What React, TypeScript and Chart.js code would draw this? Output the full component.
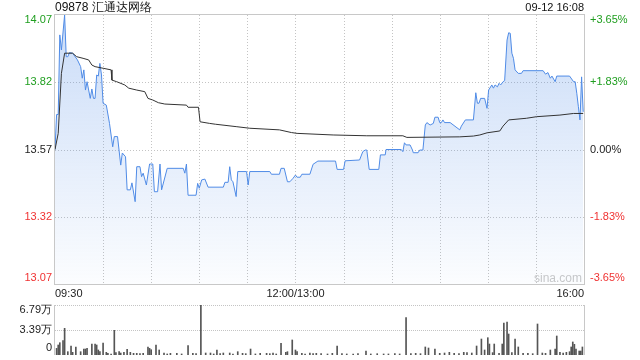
import React, { useEffect, useRef } from 'react';
import { Chart, registerables } from 'chart.js';

Chart.register(...registerables);

// ---------- text ----------
const TITLE = '09878 汇通达网络';
const DATE_LABEL = '09-12 16:08';
const WATERMARK = 'sina.com';

// ---------- axes ----------
const PRICE_MIN = 13.07;
const PRICE_MAX = 14.07;
const priceTicks = [14.07, 13.82, 13.57, 13.32, 13.07];
const pctTicks = [3.65, 1.83, 0, -1.83, -3.65];
const TOTAL_MINUTES = 330;
const timeLabels = ['09:30', '12:00/13:00', '16:00'];
const timeLabelMinutes = [0, 150, 330];
const VOL_MAX = 6.79;
const volTicks = [6.79, 3.39, 0];
const volTickLabels = ['6.79万', '3.39万', '0'];

// ---------- price series (minutes since 09:30, trading time) ----------
const priceMinutes = [
  0, 1, 2, 3, 4, 6, 7, 8, 9, 11, 14, 16, 17, 18, 19, 20, 21, 22, 23, 24, 25, 26, 27, 28, 29, 30,
  32, 34, 36, 37, 39, 41, 42, 44, 45, 47, 48, 50, 51, 53, 54, 55, 57, 59, 61, 62, 64, 65.5, 66.5,
  70, 80, 81, 82, 83, 88, 89, 90, 91.5, 93.5, 95.5, 105, 106, 108, 109, 110, 111, 113, 114, 119.5,
  120.5, 121.5, 134, 135, 140, 141, 143, 145, 146.5, 148.5, 150, 151, 153, 154, 159, 161, 164, 175,
  176, 180, 181, 190, 192, 193.5, 194.5, 196, 202, 203, 206, 206.5, 216, 217, 218, 219, 221.5, 223,
  223.5, 226.5, 227.5, 229.5, 231, 232, 234, 236, 237, 239, 240, 241, 242, 243, 246.5, 252.5, 253.5,
  256, 261, 262.5, 263.5, 264.5, 265.5, 268, 269.5, 270.5, 272.5, 273.5, 274.5, 276, 277, 278, 279.5,
  280.5, 282, 283, 284, 285, 286, 287, 289, 291, 292, 304.5, 306, 307.5, 309, 310, 312, 313, 321,
  323.5, 324.5, 325.5, 326.5, 327.5, 328.5, 329.5,
];
const priceValues = [
  13.57, 13.7, 13.7, 13.996, 13.94, 14.07, 13.915, 13.915, 13.93, 13.928, 13.903, 13.878, 13.835,
  13.866, 13.791, 13.822, 13.791, 13.76, 13.795, 13.76, 13.76, 13.847, 13.843, 13.89, 13.847, 13.742,
  13.735, 13.667, 13.58, 13.618, 13.618, 13.512, 13.557, 13.543, 13.42, 13.42, 13.446, 13.376, 13.506,
  13.506, 13.469, 13.482, 13.438, 13.516, 13.516, 13.413, 13.413, 13.516, 13.42, 13.5, 13.5, 13.482,
  13.516, 13.4, 13.4, 13.444, 13.426, 13.457, 13.46, 13.43, 13.43, 13.448, 13.448, 13.506, 13.457,
  13.45, 13.395, 13.488, 13.488, 13.438, 13.488, 13.488, 13.478, 13.478, 13.5, 13.5, 13.45, 13.45,
  13.463, 13.475, 13.467, 13.467, 13.478, 13.478, 13.515, 13.527, 13.527, 13.496, 13.496, 13.528,
  13.531, 13.562, 13.568, 13.568, 13.496, 13.496, 13.55, 13.55, 13.57, 13.57, 13.562, 13.595, 13.587,
  13.587, 13.568, 13.558, 13.558, 13.568, 13.568, 13.661, 13.67, 13.661, 13.667, 13.69, 13.69, 13.67,
  13.67, 13.68, 13.67, 13.67, 13.643, 13.657, 13.68, 13.68, 13.781, 13.742, 13.742, 13.76, 13.76,
  13.723, 13.791, 13.81, 13.798, 13.81, 13.803, 13.816, 13.81, 13.822, 13.826, 13.977, 14.004, 14.002,
  13.928, 13.909, 13.866, 13.853, 13.853, 13.863, 13.863, 13.85, 13.856, 13.835, 13.843, 13.822,
  13.843, 13.843, 13.822, 13.822, 13.779, 13.729, 13.68, 13.84, 13.71,
];

// ---------- average price series ----------
const avgMinutes = [
  0, 2, 4, 6, 11, 13.5, 17.5, 21, 23, 25, 30, 35, 35.5, 38.5, 43.5, 46, 51, 56, 58, 61, 64.5, 68.5,
  82, 83, 89.5, 90.5, 96.5, 100, 113, 121.5, 140, 147.5, 151, 173.5, 194.5, 217, 219.5, 252.5, 261,
  265, 269.5, 277.5, 279.5, 283, 294, 300.5, 315, 323.5, 329.5,
];
const avgValues = [
  13.57, 13.63, 13.853, 13.928, 13.928, 13.915, 13.909, 13.903, 13.884, 13.878, 13.872, 13.866,
  13.828, 13.822, 13.81, 13.798, 13.791, 13.785, 13.76, 13.754, 13.744, 13.739, 13.735, 13.727,
  13.727, 13.673, 13.667, 13.664, 13.655, 13.649, 13.643, 13.633, 13.63, 13.624, 13.621, 13.621,
  13.615, 13.617, 13.62, 13.624, 13.632, 13.639, 13.657, 13.68, 13.686, 13.692, 13.698, 13.704, 13.704,
];

// ---------- volume (万) ----------
const volMinutes = [
  1, 2, 3, 5, 6, 8, 10, 11, 13, 16, 18, 19, 20, 23, 25, 26, 27, 28, 30, 32, 33, 35, 37, 38, 40, 41,
  43, 45, 47, 49, 51, 53, 55, 58, 59, 60, 63, 65, 68, 70, 72, 76, 79, 83, 86, 88, 91, 94, 97, 99,
  101, 103, 105, 109, 111, 114, 117, 119, 122, 125, 128, 132, 134, 136, 138, 141, 144, 145, 148,
  150, 151, 154, 156, 159, 161, 163, 166, 170, 173, 176, 179, 182, 186, 189, 194, 197, 201, 205,
  208, 212, 215, 219, 222, 225, 228, 231, 233, 237, 240, 243, 246, 249, 252, 255, 257, 260, 263,
  266, 268, 270, 271, 273, 274, 277, 279, 280, 282, 283, 285, 287, 289, 292, 295, 298, 301, 304,
  306, 309, 312, 313, 315, 317, 319, 321, 322, 323, 324, 325, 327, 328, 329,
];
const volValues = [
  0.9, 1.36, 1.67, 1.95, 3.62, 0.45, 1.22, 0.36, 1.09, 0.45, 0.81, 0.81, 0.9, 1.49, 1.49, 1.36,
  0.68, 0.45, 1.63, 0.36, 0.23, 0.14, 3.35, 0.32, 0.45, 0.27, 0.36, 0.77, 0.36, 0.23, 0.23, 0.18,
  0.23, 1.09, 0.9, 0.72, 1.36, 0.68, 0.27, 0.14, 0.23, 0.23, 0.14, 1.27, 0.23, 0.18, 6.79, 0.27,
  0.27, 0.14, 0.68, 0.18, 0.27, 0.27, 0.14, 0.45, 0.23, 0.18, 0.81, 0.14, 0.23, 0.23, 0.18, 0.27,
  0.14, 1.58, 0.36, 0.45, 2.04, 0.68, 0.45, 0.23, 0.14, 0.27, 0.18, 0.23, 0.18, 0.14, 0.23, 1.22,
  0.18, 0.14, 0.14, 0.18, 0.54, 0.14, 0.18, 0.14, 0.14, 0.18, 0.14, 5.07, 0.18, 0.23, 0.18, 1.09,
  0.95, 0.81, 0.23, 0.27, 0.36, 0.23, 0.18, 0.36, 0.32, 0.27, 1.22, 2.17, 0.68, 2.35, 1.49, 0.32,
  1.49, 0.23, 1.49, 4.35, 4.48, 2.85, 0.32, 2.17, 1.09, 0.23, 0.23, 0.18, 4.21, 0.27, 0.23, 0.68,
  0.81, 2.58, 0.36, 0.27, 0.36, 0.45, 1.09, 1.77, 1.45, 0.81, 0.54, 0.54, 1.09,
];

const FONT = '"Liberation Sans", Arial, sans-serif';
const GREEN = '#1f9e1f';
const RED = '#f03232';
const NEUTRAL = '#222';
const GRID = '#c4c4c4';
const FRAME = '#c8c8c8';

function tickColor(v: number, ref: number) {
  if (Math.abs(v - ref) < 1e-6) return NEUTRAL;
  return v > ref ? GREEN : RED;
}

function fmtPct(v: number) {
  if (v === 0) return '0.00%';
  return (v > 0 ? '+' : '') + v.toFixed(2) + '%';
}

const pricePlugin = {
  id: 'priceDecor',
  beforeDatasetsDraw(chart: any) {
    const { ctx, chartArea: a, scales } = chart;
    const xs = scales.x;
    const ys = scales.y;
    ctx.save();
    ctx.lineWidth = 1;
    ctx.strokeStyle = GRID;
    ctx.setLineDash([1, 2]);
    priceTicks.slice(1, -1).forEach((v) => {
      const py = Math.round(ys.getPixelForValue(v)) + 0.5;
      ctx.beginPath();
      ctx.moveTo(a.left, py);
      ctx.lineTo(a.right, py);
      ctx.stroke();
    });
    for (let m = 30; m < TOTAL_MINUTES; m += 30) {
      const px = Math.round(xs.getPixelForValue(m)) + 0.5;
      ctx.beginPath();
      ctx.moveTo(px, a.top);
      ctx.lineTo(px, a.bottom);
      ctx.stroke();
    }
    ctx.setLineDash([]);
    ctx.strokeStyle = FRAME;
    ctx.strokeRect(a.left - 0.5, a.top - 0.5, a.right - a.left + 1, a.bottom - a.top + 1);
    // watermark
    ctx.fillStyle = '#c9c9c9';
    ctx.font = `12px ${FONT}`;
    ctx.textAlign = 'right';
    ctx.textBaseline = 'middle';
    ctx.fillText(WATERMARK, a.right - 2, a.bottom - 5);
    ctx.restore();
  },
  afterDraw(chart: any) {
    const { ctx, chartArea: a, scales } = chart;
    const ys = scales.y;
    const yp = scales.yPct;
    const xs = scales.x;
    ctx.save();
    ctx.font = `11px ${FONT}`;
    ctx.textBaseline = 'middle';
    const n = priceTicks.length;
    priceTicks.forEach((v, i) => {
      let py = ys.getPixelForValue(v);
      if (i === 0) py += 5;
      if (i === n - 1) py -= 6;
      ctx.fillStyle = tickColor(v, priceTicks[2]);
      ctx.textAlign = 'right';
      ctx.fillText(v.toFixed(2), a.left - 3, py);
    });
    pctTicks.forEach((v, i) => {
      let py = yp.getPixelForValue(v);
      if (i === 0) py += 5;
      if (i === n - 1) py -= 6;
      ctx.fillStyle = tickColor(v, 0);
      ctx.textAlign = 'left';
      ctx.fillText(fmtPct(v), a.right + 6, py);
    });
    // time labels
    ctx.fillStyle = NEUTRAL;
    timeLabels.forEach((t, i) => {
      const m = timeLabelMinutes[i];
      const px = xs.getPixelForValue(m);
      ctx.textAlign = i === 0 ? 'left' : i === timeLabels.length - 1 ? 'right' : 'center';
      ctx.fillText(t, px, a.bottom + 10);
    });
    // title and time stamp
    ctx.fillStyle = '#111';
    ctx.font = `12px ${FONT}`;
    ctx.textAlign = 'left';
    ctx.fillText(TITLE, a.left, 8);
    ctx.font = `11px ${FONT}`;
    ctx.textAlign = 'right';
    ctx.fillText(DATE_LABEL, a.right, 8);
    ctx.restore();
  },
};

const volPlugin = {
  id: 'volDecor',
  beforeDatasetsDraw(chart: any) {
    const { ctx, chartArea: a, scales } = chart;
    const ys = scales.y;
    ctx.save();
    ctx.lineWidth = 1;
    ctx.strokeStyle = GRID;
    ctx.setLineDash([1, 1]);
    volTicks.slice(0, -1).forEach((v) => {
      const py = Math.round(ys.getPixelForValue(v)) + 0.5;
      ctx.beginPath();
      ctx.moveTo(a.left, py);
      ctx.lineTo(a.right, py);
      ctx.stroke();
    });
    ctx.setLineDash([]);
    ctx.strokeStyle = FRAME;
    ctx.beginPath();
    ctx.moveTo(a.left - 0.5, a.top);
    ctx.lineTo(a.left - 0.5, a.bottom);
    ctx.moveTo(a.right + 0.5, a.top);
    ctx.lineTo(a.right + 0.5, a.bottom);
    ctx.stroke();
    ctx.restore();
  },
  afterDraw(chart: any) {
    const { ctx, chartArea: a, scales } = chart;
    const ys = scales.y;
    ctx.save();
    ctx.font = `11px ${FONT}`;
    ctx.textBaseline = 'middle';
    ctx.textAlign = 'right';
    ctx.fillStyle = NEUTRAL;
    volTicks.forEach((v, i) => {
      let py = ys.getPixelForValue(v);
      if (i === 0) py += 5;
      if (i === volTicks.length - 1) py -= 7;
      ctx.fillText(volTickLabels[i], a.left - 3, py);
    });
    ctx.restore();
  },
};

export default function App() {
  const priceRef = useRef<HTMLCanvasElement | null>(null);
  const volRef = useRef<HTMLCanvasElement | null>(null);

  useEffect(() => {
    const priceData = priceMinutes.map((m, i) => ({ x: m, y: priceValues[i] }));
    const avgData = avgMinutes.map((m, i) => ({ x: m, y: avgValues[i] }));
    const volData = volMinutes.map((m, i) => ({ x: m, y: volValues[i] }));

    const priceChart = new Chart(priceRef.current as HTMLCanvasElement, {
      type: 'line',
      data: {
        datasets: [
          {
            label: '均价',
            data: avgData,
            borderColor: '#333333',
            borderWidth: 1,
            pointRadius: 0,
            fill: false,
            tension: 0,
          },
          {
            label: '价格',
            data: priceData,
            borderColor: '#4f8be6',
            borderWidth: 1,
            pointRadius: 0,
            tension: 0,
            fill: 'start',
            backgroundColor: (context: any) => {
              const { chart } = context;
              const { ctx, chartArea } = chart;
              if (!chartArea) return 'rgba(79,139,230,0.15)';
              const g = ctx.createLinearGradient(0, chartArea.top, 0, chartArea.bottom);
              g.addColorStop(0, 'rgba(79,139,230,0.30)');
              g.addColorStop(1, 'rgba(79,139,230,0.02)');
              return g;
            },
          },
        ],
      },
      options: {
        responsive: false,
        animation: false,
        events: [],
        layout: { padding: { left: 55, right: 56, top: 15, bottom: 16 } },
        plugins: { legend: { display: false }, tooltip: { enabled: false } },
        scales: {
          x: { type: 'linear', min: 0, max: TOTAL_MINUTES, display: false },
          y: { min: PRICE_MIN, max: PRICE_MAX, display: false },
          yPct: { min: pctTicks[pctTicks.length - 1], max: pctTicks[0], display: false, position: 'right' },
        },
      },
      plugins: [pricePlugin],
    } as any);

    const volChart = new Chart(volRef.current as HTMLCanvasElement, {
      type: 'bar',
      data: {
        datasets: [
          {
            label: '成交量',
            data: volData,
            backgroundColor: '#555555',
            borderWidth: 0,
            barThickness: 1,
          },
        ],
      },
      options: {
        responsive: false,
        animation: false,
        events: [],
        layout: { padding: { left: 55, right: 56, top: 5, bottom: 5 } },
        plugins: { legend: { display: false }, tooltip: { enabled: false } },
        scales: {
          x: { type: 'linear', min: 0, max: TOTAL_MINUTES, display: false, offset: false },
          y: { min: 0, max: VOL_MAX, display: false },
        },
      },
      plugins: [volPlugin],
    } as any);

    return () => {
      priceChart.destroy();
      volChart.destroy();
    };
  }, []);

  return (
    <div
      style={{
        position: 'absolute',
        left: 0,
        top: 0,
        width: 640,
        height: 360,
        background: '#fff',
        overflow: 'hidden',
      }}
    >
      <canvas
        ref={priceRef}
        width={640}
        height={300}
        style={{ position: 'absolute', left: 0, top: 0, width: 640, height: 300 }}
      />
      <canvas
        ref={volRef}
        width={640}
        height={60}
        style={{ position: 'absolute', left: 0, top: 300, width: 640, height: 60 }}
      />
    </div>
  );
}
